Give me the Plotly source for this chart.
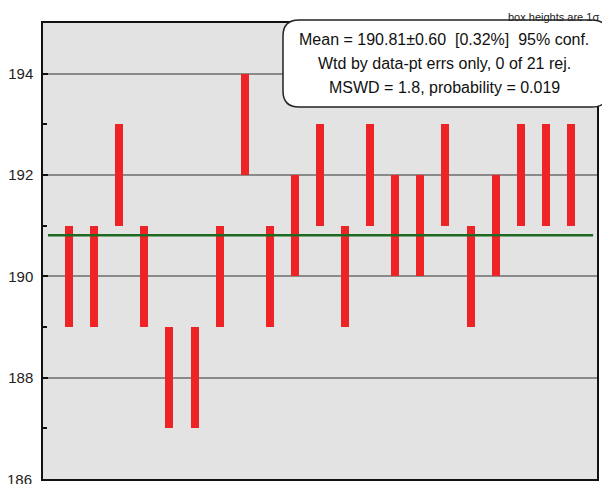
import plotly.graph_objects as go

# ---- data ----
analysis = list(range(1, 22))
ages = [190, 190, 192, 190, 188, 188, 190, 193, 190, 191, 192,
        190, 192, 191, 191, 192, 190, 191, 192, 192, 192]
sigma = [1.0] * 21
mean_age = 190.81
y_ticks = [186, 188, 190, 192, 194]
box_lines = [
    "Mean = 190.81±0.60  [0.32%]  95% conf.",
    "Wtd by data-pt errs only, 0 of 21 rej.",
    "MSWD = 1.8, probability = 0.019",
]
note = "box heights are 1σ"

lows = [a - s for a, s in zip(ages, sigma)]
heights = [2 * s for s in sigma]

fig = go.Figure()
fig.add_trace(go.Bar(
    x=analysis, y=heights, base=lows, width=0.32,
    marker=dict(color="#ee2326", line=dict(width=0)),
    hoverinfo="skip", showlegend=False,
))

fig.add_shape(type="line", xref="paper", yref="y",
              x0=0.009, x1=0.993, y0=mean_age, y1=mean_age,
              line=dict(color="#1e6a22", width=2.5), layer="above")

# rounded info box in paper coords
W, H = 554.0, 456.0
def px(x):
    return (x - 43) / W
def py(y):
    return (479 - y) / H
x0, x1, y0, y1, r = 283, 608, 20, 107, 16
rx, ry = r / W, r / H
path = (f"M {px(x0)+rx},{py(y0)} L {px(x1)-rx},{py(y0)} "
        f"Q {px(x1)},{py(y0)} {px(x1)},{py(y0)-ry} "
        f"L {px(x1)},{py(y1)+ry} Q {px(x1)},{py(y1)} {px(x1)-rx},{py(y1)} "
        f"L {px(x0)+rx},{py(y1)} Q {px(x0)},{py(y1)} {px(x0)},{py(y1)+ry} "
        f"L {px(x0)},{py(y0)-ry} Q {px(x0)},{py(y0)} {px(x0)+rx},{py(y0)} Z")

fig.add_annotation(xref="paper", yref="paper", x=px(601), y=py(17),
                   xanchor="right", yanchor="middle", showarrow=False,
                   text=note, font=dict(size=11, color="#222"))
fig.add_shape(type="path", xref="paper", yref="paper", path=path,
              fillcolor="white", line=dict(color="#222", width=1.5), layer="above")

for i, (t, yy) in enumerate(zip(box_lines, [40, 63.5, 87])):
    fig.add_annotation(xref="paper", yref="paper", x=px(444), y=py(yy),
                       xanchor="center", yanchor="middle", showarrow=False,
                       text=t, font=dict(size=16, color="#111"))

# bottom tick label (plotly drops the one at the range edge)
fig.add_annotation(xref="paper", yref="y", x=px(33.5), y=y_ticks[0],
                   xanchor="right", yanchor="middle", showarrow=False,
                   text=str(y_ticks[0]), font=dict(size=15, color="#222"))

fig.update_layout(
    width=602, height=484,
    margin=dict(l=43, r=5, t=23, b=5, autoexpand=False),
    paper_bgcolor="white", plot_bgcolor="#e3e3e3",
    font=dict(family="Liberation Sans, Arial, sans-serif"),
    bargap=0,
)
fig.update_xaxes(range=[-0.04, 22.04], showticklabels=False, showgrid=False,
                 zeroline=False, showline=True, mirror=True, automargin=False,
                 linecolor="#111", linewidth=1.5, ticks="")
fig.update_yaxes(range=[186, 195], tickvals=y_ticks[1:], ticktext=[str(v) for v in y_ticks[1:]],
                 showgrid=True, gridcolor="#8a8a8a", gridwidth=1.5, automargin=False,
                 zeroline=False, showline=True, mirror=True,
                 linecolor="#111", linewidth=1.5, ticklabelstandoff=5,
                 ticks="inside", ticklen=5, tickwidth=1.5, tickcolor="#111",
                 tickfont=dict(size=15, color="#222"),
                 minor=dict(tickvals=[187, 189, 191, 193], ticks="inside",
                            ticklen=4, tickwidth=1.5, tickcolor="#111", showgrid=False))

fig.write_html("out.html", config={"displayModeBar": False},
               post_script="document.body.style.margin='0';document.body.style.overflow='hidden';")
